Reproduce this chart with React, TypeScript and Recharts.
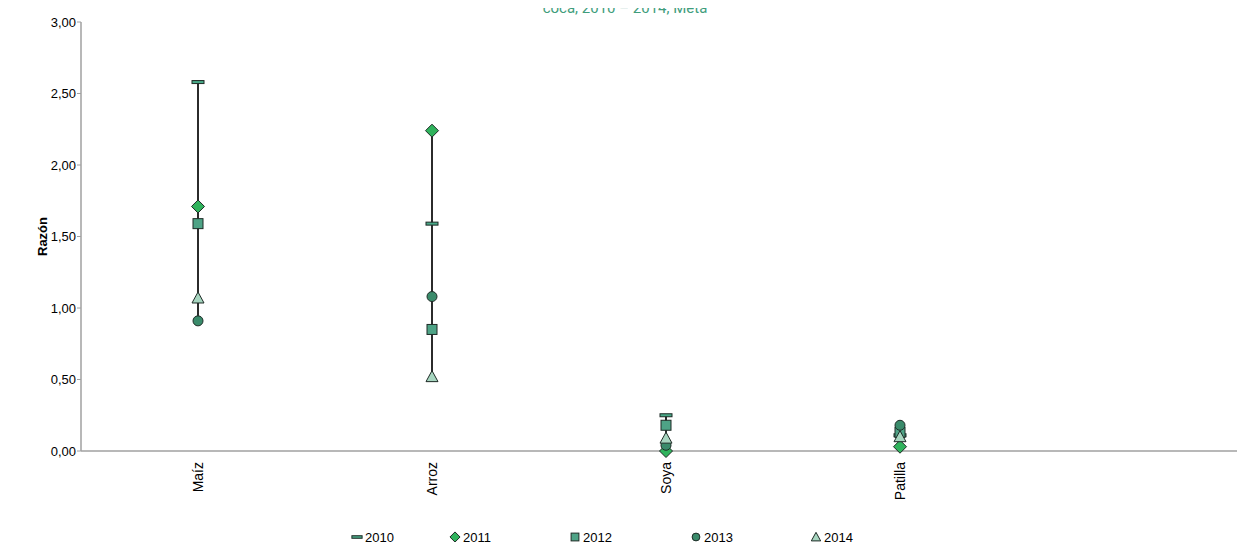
import React from "react";
import {
  ComposedChart,
  Bar,
  Line,
  XAxis,
  YAxis,
  Legend,
} from "recharts";

// categories (last slot is empty, as in the source chart)
const categories = ["Maíz", "Arroz", "Soya", "Patilla", ""];
const years = ["2010", "2011", "2012", "2013", "2014"];

const v2010 = [2.58, 1.59, 0.25, 0.11, null];
const v2011 = [1.71, 2.24, 0.0, 0.03, null];
const v2012 = [1.59, 0.85, 0.18, 0.13, null];
const v2013 = [0.91, 1.08, 0.04, 0.18, null];
const v2014 = [1.07, 0.52, 0.09, 0.1, null];

const yTicks = [0, 0.5, 1, 1.5, 2, 2.5, 3];

const seriesValues = [v2010, v2011, v2012, v2013, v2014];

const data = categories.map((name, i) => {
  const row: any = { name };
  const vals: number[] = [];
  years.forEach((y, k) => {
    const v = seriesValues[k][i];
    row[y] = v;
    if (v !== null && v !== undefined) vals.push(v as number);
  });
  row.range = vals.length ? [Math.min(...vals), Math.max(...vals)] : null;
  return row;
});

const FONT = "'Liberation Sans', Arial, sans-serif";
const EDGE = "#1e2b26";

const colors: Record<string, string> = {
  "2010": "#49a987",
  "2011": "#2fb35c",
  "2012": "#4ea386",
  "2013": "#3a8b6b",
  "2014": "#a7d6c0",
};

// legend item left edges
const legendLeft = [351, 449, 569, 690, 810];

const Marker = ({ year, cx, cy, s = 1 }: { year: string; cx: number; cy: number; s?: number }) => {
  const fill = colors[year];
  if (year === "2010")
    return <rect x={cx - 6 * s} y={cy - 1.5 * s} width={12 * s} height={3 * s} fill={fill} stroke={EDGE} strokeWidth={1} />;
  if (year === "2011")
    return (
      <polygon
        points={`${cx},${cy - 6.5 * s} ${cx + 6.5 * s},${cy} ${cx},${cy + 6.5 * s} ${cx - 6.5 * s},${cy}`}
        fill={fill}
        stroke={EDGE}
        strokeWidth={1}
      />
    );
  if (year === "2012")
    return <rect x={cx - 5 * s} y={cy - 5 * s} width={10 * s} height={10 * s} fill={fill} stroke={EDGE} strokeWidth={1} />;
  if (year === "2013") return <circle cx={cx} cy={cy} r={5 * s} fill={fill} stroke={EDGE} strokeWidth={1} />;
  return (
    <polygon
      points={`${cx},${cy - 6 * s} ${cx + 6 * s},${cy + 5 * s} ${cx - 6 * s},${cy + 5 * s}`}
      fill={fill}
      stroke={EDGE}
      strokeWidth={1}
    />
  );
};

const renderDot = (year: string) => (props: any) => {
  const { cx, cy, index, value } = props;
  if (value === null || value === undefined || cy == null || isNaN(cy)) return <g key={`${year}-${index}`} />;
  return (
    <g key={`${year}-${index}`}>
      <Marker year={year} cx={cx} cy={cy} />
    </g>
  );
};

const XTick = (props: any) => {
  const { x, y, payload } = props;
  return (
    <text
      x={x + 5}
      y={y + 3}
      transform={`rotate(-90, ${x + 5}, ${y + 3})`}
      textAnchor="end"
      fontSize={14}
      fontFamily={FONT}
      fill="#000"
    >
      {payload.value}
    </text>
  );
};

const renderLegend = () => (
  <div style={{ position: "relative", height: 20, fontFamily: FONT, fontSize: 13 }}>
    {years.map((y, i) => (
      <div
        key={y}
        style={{ position: "absolute", left: legendLeft[i], top: 0, display: "flex", alignItems: "center" }}
      >
        <svg width={12} height={16}>
          <Marker year={y} cx={6} cy={8} s={y === "2010" ? 0.85 : 0.78} />
        </svg>
        <span style={{ marginLeft: 2 }}>{y}</span>
      </div>
    ))}
  </div>
);

export default function App() {
  return (
    <div style={{ margin: -8, width: 1245, height: 550, overflow: "hidden", position: "relative", background: "#fff" }}>
      <div
        style={{
          position: "absolute",
          top: 0,
          left: 0,
          width: 1245,
          textAlign: "center",
          fontFamily: "Roboto, sans-serif",
          fontSize: 15,
          lineHeight: "16px",
          color: "#3f9d7c",
          paddingLeft: 5,
          boxSizing: "border-box",
        }}
      >
        coca, 2010 – 2014, Meta
      </div>
      <ComposedChart
        width={1251}
        height={550}
        data={data}
        margin={{ top: 22, right: 0, left: 0, bottom: 0 }}
      >
        <XAxis
          dataKey="name"
          interval={0}
          tickLine={false}
          axisLine={{ stroke: "#a0a0a0", strokeWidth: 1.5 }}
          tick={<XTick />}
          height={79}
        />
        <YAxis
          domain={[0, 3]}
          ticks={yTicks}
          width={81}
          tickSize={4}
          tickMargin={1}
          tickLine={{ stroke: "#a0a0a0" }}
          axisLine={{ stroke: "#a0a0a0", strokeWidth: 1.5 }}
          tick={{ fontSize: 13, fontFamily: FONT, fill: "#000" }}
          tickFormatter={(v: number) => v.toFixed(2).replace(".", ",")}
          label={({ viewBox }: any) => (
            <text
              x={47}
              y={viewBox.y + viewBox.height / 2}
              transform={`rotate(-90, 47, ${viewBox.y + viewBox.height / 2})`}
              textAnchor="middle"
              fontSize={13}
              fontWeight="bold"
              fontFamily={FONT}
              fill="#000"
            >
              Razón
            </text>
          )}
        />
        <Legend verticalAlign="bottom" height={20} content={renderLegend} wrapperStyle={{ left: 0, width: 1245, bottom: 1 }} />
        <Bar dataKey="range" barSize={2} fill="#2b2b2b" isAnimationActive={false} />
        {years.map((y) => (
          <Line
            key={y}
            dataKey={y}
            stroke="none"
            dot={renderDot(y)}
            activeDot={false}
            isAnimationActive={false}
            legendType="none"
          />
        ))}
      </ComposedChart>
    </div>
  );
}
